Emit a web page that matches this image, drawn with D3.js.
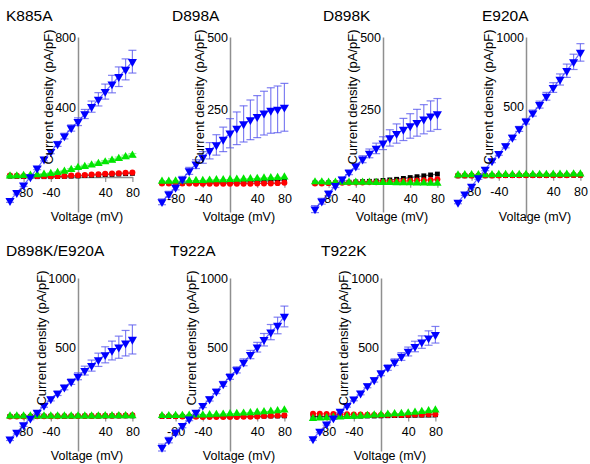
<!DOCTYPE html>
<html lang="en">
<head>
<meta charset="UTF-8">
<title>IV curves</title>
<script src="https://d3js.org/d3.v7.min.js"></script>
<style>
  body { margin: 0; background: #fff; }
  text { font-family: "Liberation Sans", Arial, sans-serif; fill: #000; }
</style>
</head>
<body>
<script>
// membrane voltage (mV)
var voltage = [-100, -90, -80, -70, -60, -50, -40, -30, -20, -10, 0, 10, 20, 30, 40, 50, 60, 70, 80];
var xTicks = [-80, -40, 40, 80];

var titles = ["K885A", "D898A", "D898K", "E920A", "D898K/E920A", "T922A", "T922K"];
var yDomains = [[-200, 800], [-100, 500], [-100, 500], [-300, 1000], [-250, 1000], [-250, 1000], [-250, 1000]];
var yTicks = [[400, 800], [250, 500], [250, 500], [500, 1000], [500, 1000], [500, 1000], [500, 1000]];

// K885A
var blueK885A = [-135, -90, -46, 0, 50, 102, 145, 189, 234, 280, 316, 360, 402, 444, 488, 531, 573, 615, 659];
var blueErrK885A = [10, 8, 8, 8, 8, 10, 12, 14, 16, 18, 22, 26, 32, 38, 43, 50, 56, 60, 65];
var greenK885A = [5, 6, 8, 10, 12, 15, 19, 25, 32, 42, 54, 60, 68, 77, 86, 95, 105, 115, 124];
var greenErrK885A = [3, 3, 3, 3, 3, 4, 4, 5, 5, 6, 6, 7, 7, 8, 8, 9, 9, 10, 10];
var redK885A = [8, 7, 6, 5, 5, 5, 5, 5, 6, 8, 10, 12, 14, 16, 18, 20, 22, 24, 26];
var blackK885A = [5, 4, 3, 2, 2, 2, 2, 3, 4, 5, 6, 8, 10, 12, 14, 15, 17, 19, 21];

// D898A
var blueD898A = [-65, -39, -16, 12, 41, 64, 87, 110, 130, 149, 170, 187, 202, 216, 227, 239, 248, 252, 259];
var blueErrD898A = [10, 10, 8, 10, 12, 15, 20, 28, 35, 42, 50, 56, 62, 68, 72, 75, 78, 80, 82];
var greenD898A = [5, 5, 6, 6, 7, 8, 8, 9, 10, 10, 11, 12, 13, 14, 15, 16, 17, 18, 20];
var redD898A = [-2, -2, -2, -2, -2, -3, -3, -3, -3, -3, -3, -3, -3, -3, -2, -2, -2, -1, 0];
var blackD898A = [0, 0, 0, 0, 0, 0, 0, 1, 1, 2, 2, 3, 3, 4, 5, 6, 7, 8, 9];

// D898K
var blueD898K = [-90, -63, -36, -10, 13, 36, 57, 81, 101, 118, 136, 154, 169, 183, 195, 206, 218, 229, 236];
var blueErrD898K = [12, 10, 8, 6, 6, 8, 10, 12, 15, 18, 22, 28, 33, 38, 42, 46, 50, 52, 53];
var greenD898K = [3, 3, 2, 2, 2, 2, 2, 2, 2, 1, 1, 1, 0, 0, 0, -1, -1, -2, -2];
var redD898K = [-2, -2, -1, -1, 0, 0, 1, 1, 2, 2, 3, 4, 5, 6, 7, 8, 9, 10, 12];
var blackD898K = [0, 0, 0, 0, 1, 2, 3, 4, 5, 6, 8, 10, 12, 15, 18, 21, 24, 27, 30];

// E920A
var blueE920A = [-191, -131, -75, -15, 47, 107, 160, 216, 277, 338, 393, 452, 513, 573, 636, 694, 757, 821, 889];
var blueErrE920A = [10, 10, 10, 10, 10, 12, 12, 14, 16, 18, 20, 22, 25, 28, 35, 40, 48, 55, 63];
var greenE920A = [6, 7, 7, 8, 8, 8, 9, 9, 9, 9, 10, 10, 10, 10, 11, 11, 11, 12, 12];
var redE920A = [2, 2, 3, 3, 3, 3, 3, 4, 4, 4, 4, 4, 5, 5, 5, 5, 5, 6, 6];
var blackE920A = [0, 0, 1, 1, 1, 1, 2, 2, 2, 2, 3, 3, 3, 3, 4, 4, 4, 5, 5];

// D898K/E920A
var blueDouble = [-164, -116, -62, -14, 29, 78, 126, 167, 210, 251, 290, 331, 367, 409, 445, 476, 500, 529, 556];
var blueErrDouble = [10, 10, 10, 10, 10, 12, 14, 16, 18, 20, 25, 32, 40, 48, 58, 68, 80, 92, 105];
var greenDouble = [2, 2, 2, 2, 2, 3, 3, 3, 3, 3, 3, 3, 3, 3, 4, 4, 4, 4, 4];
var redDouble = [0, 0, 0, 0, 1, 1, 1, 1, 2, 2, 2, 3, 3, 4, 4, 5, 6, 7, 8];
var blackDouble = [0, 0, 0, 0, 0, 1, 1, 1, 1, 1, 2, 2, 2, 2, 3, 3, 3, 4, 4];

// T922A
var blueT922A = [-225, -171, -116, -67, -19, 29, 78, 126, 181, 235, 288, 336, 391, 447, 500, 554, 609, 657, 722];
var blueErrT922A = [25, 20, 18, 15, 12, 12, 14, 15, 16, 18, 20, 22, 25, 30, 35, 45, 55, 60, 75];
var greenT922A = [5, 5, 6, 7, 8, 9, 10, 12, 14, 16, 18, 20, 23, 26, 29, 33, 37, 41, 45];
var redT922A = [2, 2, 1, 0, -2, -3, -4, -5, -5, -5, -5, -4, -3, -2, 0, 2, 4, 6, 8];
var blackT922A = [0, 0, 0, 0, 0, 0, 0, 0, 0, 0, 0, 1, 1, 1, 2, 2, 3, 3, 4];

// T922K
var blueT922K = [-163, -108, -55, -12, 36, 77, 125, 168, 221, 264, 312, 353, 392, 433, 469, 505, 537, 566, 590];
var blueErrT922K = [10, 10, 8, 8, 8, 10, 12, 12, 14, 16, 18, 20, 24, 28, 32, 38, 45, 52, 60];
var greenT922K = [-15, -12, -10, -7, -5, -2, 0, 3, 6, 9, 12, 15, 18, 21, 25, 30, 35, 40, 45];
var redT922K = [20, 19, 18, 17, 16, 15, 14, 13, 12, 11, 10, 10, 10, 11, 12, 13, 14, 15, 16];
var blackT922K = [0, 0, 0, 0, 1, 1, 2, 2, 3, 3, 4, 5, 6, 7, 8, 9, 10, 11, 12];

var blue = [blueK885A, blueD898A, blueD898K, blueE920A, blueDouble, blueT922A, blueT922K];
var blueErr = [blueErrK885A, blueErrD898A, blueErrD898K, blueErrE920A, blueErrDouble, blueErrT922A, blueErrT922K];
var green = [greenK885A, greenD898A, greenD898K, greenE920A, greenDouble, greenT922A, greenT922K];
var greenErr = [greenErrK885A, null, null, null, null, null, null];
var red = [redK885A, redD898A, redD898K, redE920A, redDouble, redT922A, redT922K];
var black = [blackK885A, blackD898A, blackD898K, blackE920A, blackDouble, blackT922A, blackT922K];

// panel placement
var layout = [
    { axisX: 78,  top: 37,  bottom: 212,   titleX: 6,   titleY: 21,  labelDx: -25, xLabelY: 221 },
    { axisX: 230, top: 37,  bottom: 212,   titleX: 172, titleY: 21,  labelDx: -26, xLabelY: 221 },
    { axisX: 383, top: 37,  bottom: 212,   titleX: 323, titleY: 21,  labelDx: -26, xLabelY: 221 },
    { axisX: 526, top: 37,  bottom: 217.5, titleX: 482, titleY: 21,  labelDx: -33, xLabelY: 221 },
    { axisX: 78,  top: 278, bottom: 451,   titleX: 6,   titleY: 256, labelDx: -32, xLabelY: 460 },
    { axisX: 230, top: 278, bottom: 451,   titleX: 170, titleY: 256, labelDx: -34, xLabelY: 460 },
    { axisX: 381, top: 278, bottom: 451,   titleX: 321, titleY: 256, labelDx: -33, xLabelY: 460 }
];

var width = 590, height = 464;
var axisColor = '#8f8f8f';
var plain = function(d) { return String(d); };

var svg = d3.select('body')
    .append('svg')
    .attr('width', width)
    .attr('height', height);

titles.forEach(function(title, i) {
    var L = layout[i];

    var x = d3.scaleLinear()
        .domain([-100, 80])
        .range([L.axisX - 68, L.axisX + 54.4]);

    var y = d3.scaleLinear()
        .domain(yDomains[i])
        .range([L.bottom, L.top]);

    var g = svg.append('g');

    g.append('text')
        .attr('x', L.titleX)
        .attr('y', L.titleY)
        .attr('font-size', '15.5px')
        .text(title);

    // x axis through zero current
    var xAxis = g.append('g')
        .attr('transform', 'translate(0,' + y(0) + ')')
        .call(d3.axisBottom(x).tickValues(xTicks).tickFormat(plain)
            .tickSize(5).tickSizeOuter(0).tickPadding(6));
    // y axis through zero voltage
    var yAxis = g.append('g')
        .attr('transform', 'translate(' + x(0) + ',0)')
        .call(d3.axisLeft(y).tickValues(yTicks[i]).tickFormat(plain)
            .tickSize(0).tickPadding(2));

    [xAxis, yAxis].forEach(function(ax) {
        ax.select('.domain').attr('stroke', axisColor).attr('stroke-width', 1.5);
        ax.selectAll('.tick line').attr('stroke', axisColor).attr('stroke-width', 1.2);
        ax.selectAll('.tick text')
            .attr('font-family', '"Liberation Sans", Arial, sans-serif')
            .attr('font-size', '12.5px')
            .attr('fill', '#000');
    });

    g.append('text')
        .attr('x', L.axisX + 9)
        .attr('y', L.xLabelY)
        .attr('text-anchor', 'middle')
        .attr('font-size', '12.5px')
        .text('Voltage (mV)');

    var line = function(vals) {
        return d3.line()
            .x(function(d, k) { return x(voltage[k]); })
            .y(function(d) { return y(d); })(vals);
    };

    var series = [
        { vals: black[i], color: '#000000', sym: d3.symbolSquare, size: 24, rot: 0 },
        { vals: red[i], color: '#ff0000', sym: d3.symbolCircle, size: 28, rot: 0 },
        { vals: green[i], color: '#00e600', sym: d3.symbolTriangle, size: 30, rot: 0,
          err: greenErr[i], errColor: '#66ee66' },
        { vals: blue[i], color: '#0000ff', sym: d3.symbolTriangle, size: 36, rot: 180,
          err: blueErr[i], errColor: '#5555ee' }
    ];

    series.forEach(function(s) {
        if (s.err) {
            var eb = g.append('g')
                .attr('stroke', s.errColor)
                .attr('stroke-opacity', 0.75)
                .attr('stroke-width', 1.2);
            s.vals.forEach(function(v, k) {
                var cx = x(voltage[k]);
                eb.append('line')
                    .attr('x1', cx).attr('x2', cx)
                    .attr('y1', y(v - s.err[k])).attr('y2', y(v + s.err[k]));
                eb.append('line')
                    .attr('x1', cx - 4).attr('x2', cx + 4)
                    .attr('y1', y(v + s.err[k])).attr('y2', y(v + s.err[k]));
                eb.append('line')
                    .attr('x1', cx - 4).attr('x2', cx + 4)
                    .attr('y1', y(v - s.err[k])).attr('y2', y(v - s.err[k]));
            });
        }

        g.append('path')
            .attr('d', line(s.vals))
            .attr('fill', 'none')
            .attr('stroke', s.color)
            .attr('stroke-opacity', 0.6)
            .attr('stroke-width', 1.2);

        g.selectAll(null)
            .data(s.vals)
            .enter()
            .append('path')
            .attr('d', d3.symbol().type(s.sym).size(s.size))
            .attr('transform', function(d, k) {
                return 'translate(' + x(voltage[k]) + ',' + y(d) + ') rotate(' + s.rot + ')';
            })
            .attr('fill', s.color);
    });

    // y label sits on top of the data
    var lx = L.axisX + L.labelDx;
    g.append('text')
        .attr('transform', 'translate(' + lx + ',' + (L.top - 7.5) + ') rotate(-90)')
        .attr('text-anchor', 'end')
        .attr('font-size', '13px')
        .text('Current density (pA/pF)');
});
</script>
</body>
</html>
